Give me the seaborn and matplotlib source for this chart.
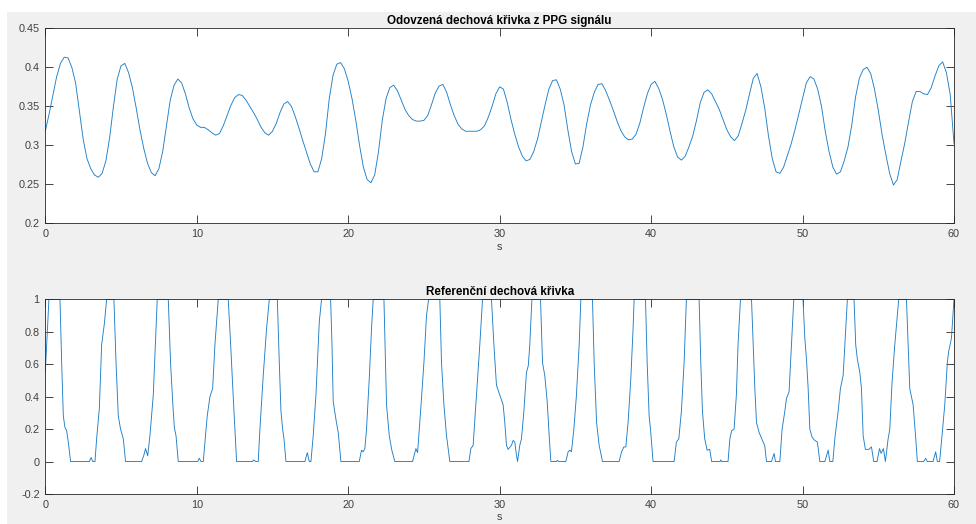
import numpy as np
import matplotlib

matplotlib.use("Agg")
import matplotlib.pyplot as plt
from matplotlib.patches import Rectangle
import seaborn as sns

# top panel: derived breathing curve, sampled every 0.25 s (0 .. 60 s)
ppg_step = 0.25
ppg_resp = [
    0.318, 0.340, 0.364, 0.388,  # 0
    0.405, 0.413, 0.412, 0.400,  # 1
    0.380, 0.344, 0.308, 0.283,  # 2
    0.270, 0.262, 0.259, 0.264,  # 3
    0.280, 0.310, 0.350, 0.385,  # 4
    0.402, 0.405, 0.393, 0.374,  # 5
    0.348, 0.320, 0.296, 0.277,  # 6
    0.265, 0.261, 0.270, 0.292,  # 7
    0.325, 0.358, 0.377, 0.385,  # 8
    0.380, 0.366, 0.348, 0.334,  # 9
    0.326, 0.323, 0.323, 0.320,  # 10
    0.316, 0.313, 0.315, 0.325,  # 11
    0.338, 0.351, 0.361, 0.365,  # 12
    0.364, 0.358, 0.350, 0.342,  # 13
    0.333, 0.323, 0.316, 0.313,  # 14
    0.318, 0.328, 0.342, 0.353,  # 15
    0.356, 0.350, 0.337, 0.322,  # 16
    0.306, 0.291, 0.276, 0.266,  # 17
    0.266, 0.283, 0.315, 0.360,  # 18
    0.390, 0.404, 0.406, 0.398,  # 19
    0.382, 0.360, 0.332, 0.300,  # 20
    0.272, 0.256, 0.252, 0.262,  # 21
    0.292, 0.332, 0.360, 0.374,  # 22
    0.377, 0.370, 0.358, 0.346,  # 23
    0.338, 0.333, 0.331, 0.331,  # 24
    0.332, 0.338, 0.352, 0.367,  # 25
    0.376, 0.378, 0.368, 0.352,  # 26
    0.338, 0.327, 0.321, 0.318,  # 27
    0.318, 0.318, 0.318, 0.320,  # 28
    0.325, 0.336, 0.350, 0.366,  # 29
    0.375, 0.372, 0.355, 0.333,  # 30
    0.314, 0.298, 0.286, 0.280,  # 31
    0.282, 0.292, 0.308, 0.330,  # 32
    0.352, 0.372, 0.383, 0.384,  # 33
    0.372, 0.352, 0.320, 0.292,  # 34
    0.276, 0.277, 0.298, 0.328,  # 35
    0.352, 0.368, 0.378, 0.379,  # 36
    0.370, 0.358, 0.345, 0.331,  # 37
    0.319, 0.311, 0.307, 0.308,  # 38
    0.314, 0.328, 0.348, 0.366,  # 39
    0.378, 0.382, 0.373, 0.359,  # 40
    0.340, 0.318, 0.298, 0.285,  # 41
    0.281, 0.286, 0.298, 0.312,  # 42
    0.332, 0.355, 0.368, 0.371,  # 43
    0.366, 0.356, 0.346, 0.333,  # 44
    0.320, 0.311, 0.306, 0.312,  # 45
    0.328, 0.345, 0.366, 0.386,  # 46
    0.392, 0.375, 0.348, 0.312,  # 47
    0.283, 0.266, 0.264, 0.272,  # 48
    0.287, 0.302, 0.320, 0.340,  # 49
    0.360, 0.380, 0.388, 0.385,  # 50
    0.372, 0.350, 0.318, 0.292,  # 51
    0.272, 0.263, 0.266, 0.280,  # 52
    0.298, 0.326, 0.362, 0.386,  # 53
    0.397, 0.400, 0.392, 0.372,  # 54
    0.345, 0.314, 0.288, 0.264,  # 55
    0.249, 0.256, 0.280, 0.303,  # 56
    0.330, 0.356, 0.369, 0.369,  # 57
    0.366, 0.365, 0.374, 0.389,  # 58
    0.402, 0.407, 0.393, 0.365,  # 59
    0.302,                       # 60
]
ppg_t = np.arange(len(ppg_resp)) * ppg_step

# bottom panel: reference breathing curve, read as (time, value) breakpoints
ref_t = [
    0.00, 0.24, 0.97, 1.08, 1.19, 1.30, 1.41, 1.52, 1.67, 2.91, 3.02, 3.13, 3.28,
    3.39, 3.57, 3.72, 3.90, 4.05, 4.53, 4.67, 4.82, 4.97, 5.15, 5.30, 6.36, 6.51,
    6.62, 6.76, 6.91, 7.13, 7.39, 8.12, 8.27, 8.41, 8.52, 8.63, 8.78, 10.06, 10.17,
    10.28, 10.43, 10.54, 10.69, 10.87, 11.05, 11.20, 11.42, 12.08, 12.24, 12.37,
    12.52, 12.63, 13.69, 13.75, 13.91, 14.06, 14.17, 14.39, 14.61, 14.79, 15.32,
    15.45, 15.56, 15.67, 15.76, 15.89, 17.14, 17.30, 17.43, 17.54, 17.69, 17.87,
    18.09, 18.24, 18.84, 18.93, 19.01, 19.19, 19.34, 19.52, 20.73, 20.88, 20.99,
    21.10, 21.21, 21.39, 21.54, 21.65, 22.36, 22.45, 22.53, 22.71, 22.88, 23.08,
    24.25, 24.47, 24.58, 24.78, 25.00, 25.17, 25.31, 26.05, 26.16, 26.32, 26.49,
    26.71, 27.97, 28.10, 28.25, 28.47, 28.69, 28.87, 29.46, 29.62, 29.79, 29.97,
    30.12, 30.23, 30.34, 30.45, 30.56, 30.78, 30.89, 31.00, 31.11, 31.18, 31.33,
    31.44, 31.60, 31.77, 31.89, 31.99, 32.13, 32.70, 32.83, 32.98, 33.14, 33.27,
    33.38, 33.75, 33.80, 33.90, 34.37, 34.52, 34.63, 34.74, 34.90, 35.07, 35.25,
    35.36, 36.13, 36.24, 36.40, 36.57, 36.79, 37.89, 38.05, 38.20, 38.33, 38.48,
    38.66, 38.81, 38.88, 39.63, 39.74, 39.87, 39.96, 40.13, 41.52, 41.67, 41.83,
    42.00, 42.18, 42.33, 43.17, 43.28, 43.39, 43.54, 43.70, 43.87, 44.00, 44.55,
    44.60, 44.66, 45.08, 45.20, 45.32, 45.48, 45.63, 45.74, 45.90, 46.63, 46.74,
    46.85, 46.96, 47.13, 47.40, 47.50, 47.62, 47.95, 48.12, 48.21, 48.50, 48.65,
    48.83, 48.94, 49.11, 49.27, 49.42, 50.03, 50.15, 50.26, 50.37, 50.48, 50.63,
    50.81, 50.98, 51.14, 51.47, 51.69, 51.80, 52.00, 52.13, 52.35, 52.50, 52.68,
    52.83, 52.96, 53.40, 53.51, 53.62, 53.78, 53.89, 54.00, 54.15, 54.37, 54.55,
    54.70, 54.92, 55.08, 55.19, 55.34, 55.47, 55.65, 55.76, 55.91, 56.09, 56.35,
    56.86, 56.97, 57.08, 57.30, 57.46, 57.58, 58.00, 58.13, 58.24, 58.62, 58.79,
    58.90, 59.05, 59.17, 59.39, 59.56, 59.65, 59.83, 60.00,
]
ref_v = [
    0.55, 1.00, 1.00, 0.61, 0.28, 0.21, 0.19, 0.12, 0.00, 0.00, 0.025, 0.00, 0.00,
    0.14, 0.33, 0.72, 0.85, 1.00, 1.00, 0.61, 0.28, 0.20, 0.14, 0.00, 0.00, 0.04,
    0.08, 0.035, 0.16, 0.41, 1.00, 1.00, 0.61, 0.37, 0.21, 0.16, 0.00, 0.00, 0.02,
    0.00, 0.00, 0.12, 0.28, 0.40, 0.45, 0.72, 1.00, 1.00, 0.72, 0.47,
    0.20, 0.00, 0.00, 0.01, 0.00, 0.00, 0.20, 0.53, 0.82, 1.00, 1.00,
    0.61, 0.31, 0.20, 0.14, 0.00, 0.00, 0.055, 0.00, 0.00, 0.16, 0.41,
    0.86, 1.00, 1.00, 0.72, 0.37, 0.26, 0.18, 0.00, 0.00, 0.07, 0.06,
    0.08, 0.20, 0.51, 0.82, 1.00, 1.00, 0.65, 0.35, 0.16, 0.07, 0.00,
    0.00, 0.08, 0.055, 0.31, 0.61, 0.90, 1.00, 1.00, 0.61, 0.35, 0.16,
    0.00, 0.00, 0.08, 0.10, 0.41, 0.72, 1.00, 1.00, 0.72, 0.47, 0.42,
    0.38, 0.35, 0.24, 0.10, 0.075, 0.10, 0.13, 0.12, 0.04, 0.00, 0.10,
    0.14, 0.31, 0.55, 0.59, 0.72, 1.00, 1.00, 0.61, 0.53, 0.37, 0.16,
    0.00, 0.00, 0.008, 0.00, 0.00, 0.06, 0.07, 0.06, 0.20, 0.41, 0.72,
    1.00, 1.00, 0.61, 0.24, 0.10, 0.00, 0.00, 0.06, 0.09, 0.09, 0.24,
    0.51, 0.82, 1.00, 1.00, 0.61, 0.28, 0.20, 0.00, 0.00, 0.12, 0.14,
    0.31, 0.61, 1.00, 1.00, 0.61, 0.31, 0.14, 0.07, 0.075, 0.00, 0.00,
    0.01, 0.00, 0.00, 0.14, 0.19, 0.20, 0.41, 0.72, 1.00, 1.00, 0.72,
    0.45, 0.24, 0.18, 0.12, 0.10, 0.00, 0.00, 0.05, 0.00, 0.00, 0.20,
    0.31, 0.39, 0.43, 0.72, 1.00, 1.00, 0.76, 0.63, 0.45, 0.20, 0.15,
    0.13, 0.12, 0.00, 0.00, 0.07, 0.00, 0.00, 0.14, 0.31, 0.45, 0.53,
    0.78, 1.00, 1.00, 0.72, 0.63, 0.55, 0.45, 0.16, 0.075, 0.075, 0.09,
    0.00, 0.00, 0.08, 0.05, 0.08, 0.00, 0.14, 0.20, 0.49, 0.72, 1.00,
    1.00, 0.72, 0.45, 0.35, 0.16, 0.00, 0.00, 0.02, 0.00, 0.00, 0.06,
    0.00, 0.00, 0.12, 0.35, 0.61, 0.68, 0.76, 1.00,
]

top_yticks = [0.2, 0.25, 0.3, 0.35, 0.4, 0.45]
top_ylabels = ["0.2", "0.25", "0.3", "0.35", "0.4", "0.45"]
bot_yticks = [-0.2, 0, 0.2, 0.4, 0.6, 0.8, 1]
bot_ylabels = ["-0.2", "0", "0.2", "0.4", "0.6", "0.8", "1"]
xticks = [0, 10, 20, 30, 40, 50, 60]

sns.set_style("ticks")
plt.rcParams["font.family"] = ["Liberation Sans", "DejaVu Sans"]

line_color = "#1f7fc8"
text_color = "#404040"

fig = plt.figure(figsize=(9.76, 5.24), dpi=100, facecolor="white")
# MATLAB-like grey window area, behind the axes
fig.patches.append(Rectangle((7 / 976, 0), 1, 1 - 12 / 524, transform=fig.transFigure,
                             facecolor="#f0f0f0", edgecolor="none", zorder=-10))

ax1 = fig.add_axes([45.3 / 976, (524 - 223.3) / 524, (954 - 45.3) / 976, 195 / 524])
ax2 = fig.add_axes([45.3 / 976, (524 - 494) / 524, (954 - 45.3) / 976, 194.7 / 524])

sns.lineplot(x=ppg_t, y=ppg_resp, ax=ax1, color=line_color, linewidth=0.65, estimator=None)
sns.lineplot(x=ref_t, y=ref_v, ax=ax2, color=line_color, linewidth=0.65, estimator=None)

setup = [
    (ax1, "Odovzená dechová křivka z PPG signálu", (0.2, 0.45), top_yticks, top_ylabels),
    (ax2, "Referenční dechová křivka", (-0.2, 1), bot_yticks, bot_ylabels),
]
for ax, title, ylim, yt, yl in setup:
    ax.set_facecolor("white")
    ax.set_xlim(0, 60)
    ax.set_ylim(*ylim)
    ax.set_xticks(xticks)
    ax.set_xticklabels([str(x) for x in xticks])
    ax.set_yticks(yt)
    ax.set_yticklabels(yl)
    ax.tick_params(direction="in", top=True, right=True, length=6, width=0.6,
                   colors="#262626", labelcolor=text_color, labelsize=7.8, pad=4)
    for sp in ax.spines.values():
        sp.set_visible(True)
        sp.set_color("#262626")
        sp.set_linewidth(0.6)
    ax.set_title(title, fontsize=8.4, fontweight="bold", color="black", pad=3)
    ax.set_xlabel("s", fontsize=7.8, color=text_color, labelpad=2)
    ax.set_ylabel("")

fig.savefig("out.png", dpi=100, facecolor=fig.get_facecolor())
plt.close(fig)
